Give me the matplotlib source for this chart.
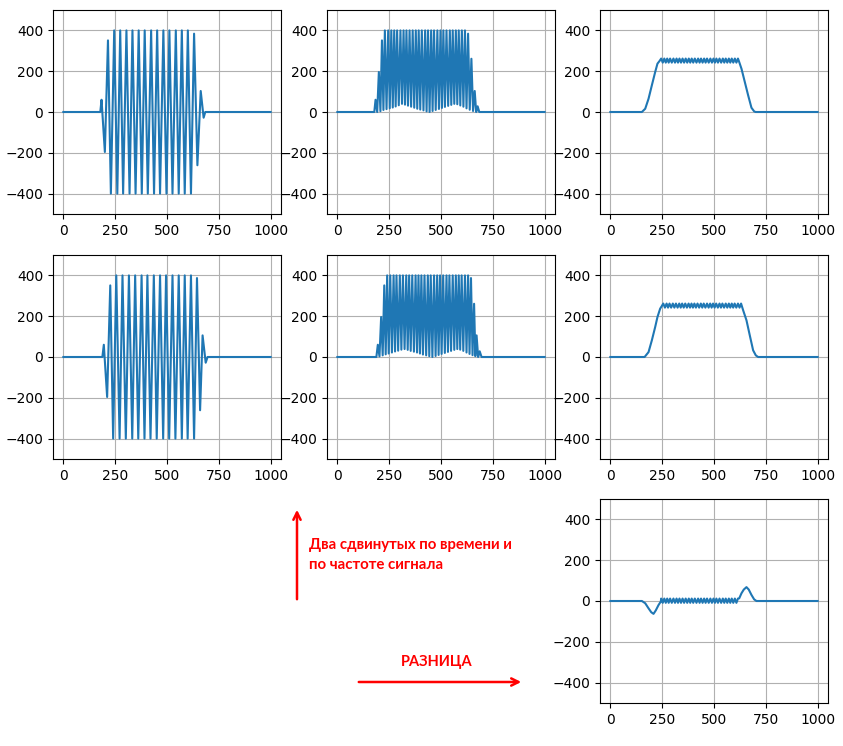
import numpy as np
import matplotlib
matplotlib.use("Agg")
import matplotlib.pyplot as plt
from matplotlib.patches import FancyArrowPatch

# ---------------- data ----------------
# Signal 1 (top row): extrema positions / values
s1_x = [0, 178, 184, 200, 215, 229, 245, 260, 274, 288, 304, 319, 333, 348, 363,
        378, 392, 407, 423, 437, 452, 466, 482, 497, 511, 526, 542, 556, 571, 585,
        600, 615, 630, 646, 662, 676, 684, 999]
s1_y = [0, 0, 60, -196, 351, -400, 400, -400, 400, -400, 400, -400, 400, -400, 400,
        -400, 400, -400, 400, -400, 400, -400, 400, -400, 400, -400, 400, -400, 400, -400,
        400, -400, 384, -261, 103, -28, 0, 0]
# Signal 2 (middle row)
s2_x = [0, 188, 195, 211, 226, 240, 255, 271, 285, 301, 316, 332, 346, 361, 377,
        391, 405, 420, 436, 450, 466, 481, 495, 510, 526, 540, 556, 571, 585, 599,
        615, 630, 644, 659, 671, 686, 695, 999]
s2_y = [0, 0, 60, -196, 351, -400, 400, -400, 400, -400, 400, -400, 400, -400, 400,
        -400, 400, -400, 400, -400, 400, -400, 400, -400, 400, -400, 400, -400, 400, -400,
        400, -400, 387, -261, 106, -28, 0, 0]

# rectified signal: lower envelope values at each zero crossing
r1_bottom = [0, 4, 10, 14, 18, 22, 27, 33, 40, 36, 31, 26, 21, 16, 12, 8, 3,
             0, 5, 10, 15, 20, 25, 30, 35, 40, 38, 32, 26, 18, 11, 5, 0]
r2_bottom = [3, 8, 13, 17, 22, 27, 31, 36, 39, 35, 30, 26, 22, 17, 12, 8, 4,
             0, 5, 10, 15, 20, 25, 30, 35, 39, 36, 30, 22, 15, 9, 4, 0]

# smoothed envelope (third column)
e1_rise_x = [0, 152, 168, 184, 200, 216, 227, 237]
e1_rise_y = [0, 0, 16, 65, 131, 196, 237, 250]
e1_fall_x = [621, 632, 648, 664, 680, 693, 700, 999]
e1_fall_y = [245, 212, 147, 82, 21, 3, 0, 0]
e2_rise_x = [0, 165, 184, 200, 216, 227, 240, 248]
e2_rise_y = [0, 0, 24, 82, 147, 196, 237, 250]
e2_fall_x = [640, 656, 672, 688, 701, 712, 999]
e2_fall_y = [229, 180, 106, 33, 8, 0, 0]
plateau_hi = 262
plateau_lo = 242

# difference (bottom right)
d_start_x = [0, 152, 168, 184, 197, 208, 219, 232, 243]
d_start_y = [0, 0, -11, -36, -55, -63, -46, -20, -3]
d_end_x = [621, 632, 643, 656, 667, 680, 693, 704, 999]
d_end_y = [13, 38, 56, 68, 56, 30, 8, 0, 0]
diff_hi = 12
diff_lo = -9

xticks = [0, 250, 500, 750, 1000]
yticks = [-400, -200, 0, 200, 400]

label_text_1 = "Два сдвинутых по времени и"
label_text_2 = "по частоте сигнала"
label_diff = "РАЗНИЦА"


# ---------------- helpers ----------------
def rectified(ex, ey, bottoms):
    ext_x = ex[2:-2]
    ext_y = [abs(v) for v in ey[2:-2]]
    xs = [ex[0], ex[1]]
    ys = [0, 0]
    for i in range(len(ext_x)):
        xs.append(ext_x[i]); ys.append(ext_y[i])
        if i < len(bottoms):
            xs.append((ext_x[i] + ext_x[i + 1]) / 2); ys.append(bottoms[i])
    xs += [ex[-2], ex[-1]]
    ys += [0, 0]
    return xs, ys


def ripple(ex, start, stop, hi, lo):
    pts = [v for v in ex[2:-2] if start <= v <= stop]
    xs, ys = [], []
    for i, v in enumerate(pts):
        xs.append(v); ys.append(hi)
        if i < len(pts) - 1:
            xs.append((v + pts[i + 1]) / 2); ys.append(lo)
    return xs, ys


W, H = 843, 746
fig = plt.figure(figsize=(W / 100, H / 100), dpi=100)

col_left = [53, 327, 600]
row_top = [10, 255, 499]
aw, ah = 228, 204


def make_ax(r, c):
    ax = fig.add_axes([col_left[c] / W, 1 - (row_top[r] + ah) / H, aw / W, ah / H])
    ax.set_ylim(-500, 500)
    ax.set_xticks(xticks)
    ax.set_yticks(yticks)
    ax.grid(True)
    return ax


lw = 1.5
color = "#1f77b4"

# row 1
ax = make_ax(0, 0); ax.plot(s1_x, s1_y, color=color, lw=lw)
ax = make_ax(0, 1); x, y = rectified(s1_x, s1_y, r1_bottom); ax.plot(x, y, color=color, lw=lw)
ax = make_ax(0, 2)
px, py = ripple(s1_x, 245, 615, plateau_hi, plateau_lo)
ax.plot(e1_rise_x + px + e1_fall_x, e1_rise_y + py + e1_fall_y, color=color, lw=lw)

# row 2
ax = make_ax(1, 0); ax.plot(s2_x, s2_y, color=color, lw=lw)
ax = make_ax(1, 1); x, y = rectified(s2_x, s2_y, r2_bottom); ax.plot(x, y, color=color, lw=lw)
ax = make_ax(1, 2)
px, py = ripple(s2_x, 255, 630, plateau_hi, plateau_lo)
ax.plot(e2_rise_x + px + e2_fall_x, e2_rise_y + py + e2_fall_y, color=color, lw=lw)

# row 3: difference
ax = make_ax(2, 2)
px, py = ripple(s1_x, 245, 615, diff_hi, diff_lo)
ax.plot(d_start_x + px + d_end_x, d_start_y + py + d_end_y, color=color, lw=lw)

# annotations
def fx(px_):
    return px_ / W


def fy(py_):
    return 1 - py_ / H


fig.add_artist(FancyArrowPatch((fx(297), fy(602)), (fx(297), fy(507)),
                               transform=fig.transFigure, arrowstyle="->",
                               mutation_scale=13, color="red", lw=1.8))
fig.add_artist(FancyArrowPatch((fx(356), fy(682)), (fx(524), fy(682)),
                               transform=fig.transFigure, arrowstyle="->",
                               mutation_scale=13, color="red", lw=1.8))
fam = ["Lato", "Open Sans", "DejaVu Sans"]
fig.text(fx(309), fy(545), label_text_1, color="red", fontweight="bold",
         fontsize=10.8, family=fam, ha="left", va="center")
fig.text(fx(309), fy(565), label_text_2, color="red", fontweight="bold",
         fontsize=10.8, family=fam, ha="left", va="center")
fig.text(fx(437), fy(662), label_diff, color="red", fontweight="bold",
         fontsize=10.5, family=fam, ha="center", va="center")

fig.savefig("out.png", dpi=100)
